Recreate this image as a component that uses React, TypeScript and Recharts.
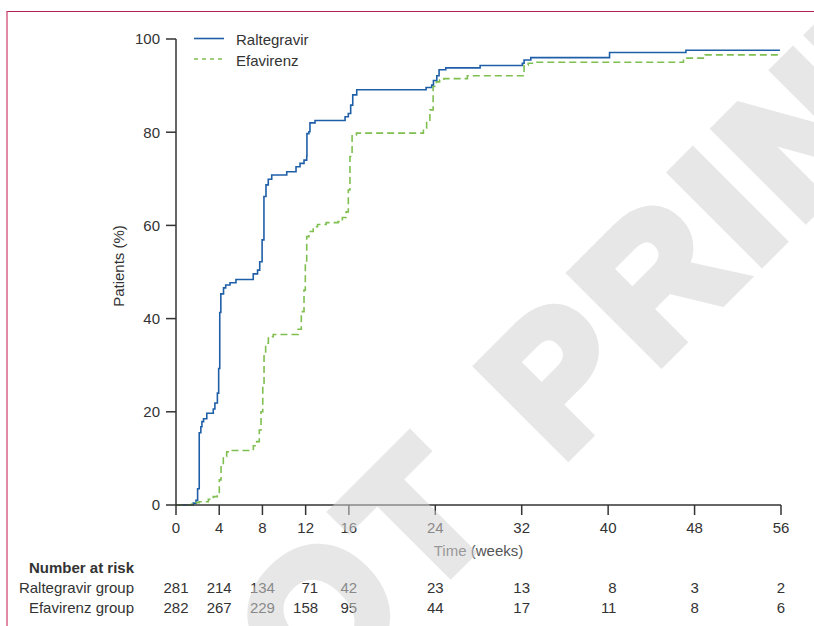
import React from 'react';
import { LineChart, Line, XAxis, YAxis, Legend } from 'recharts';

const xTicks = [0, 4, 8, 12, 16, 24, 32, 40, 48, 56];
const yTicks = [0, 20, 40, 60, 80, 100];

// Kaplan-Meier steps: week where the step happens, new value (%)
const raltegravirWeeks = [
  0, 1.6, 1.85, 2.0, 2.15, 2.3, 2.4, 2.55, 2.85, 3.45, 3.6, 3.83, 3.95, 4.05, 4.15, 4.4, 4.6, 5.0, 5.55,
  7.15, 7.55, 7.75, 7.97, 8.14, 8.33, 8.54, 8.86, 10.25, 11.11, 11.48, 11.85, 12.1, 12.12, 12.3, 12.4,
  12.87, 15.65, 15.95, 16.17, 16.36, 16.73, 23.15, 23.67, 23.83, 24.14, 24.35, 24.97, 28.15, 32.06,
  32.22, 32.84, 40.13, 47.2, 55.9,
];
const raltegravirPct = [
  0, 0.4, 1, 3.5, 15.5, 16.8, 17.9, 18.5, 19.7, 20.6, 21.9, 24, 29.3, 41.3, 45.3, 46.6, 47.2, 47.7, 48.4,
  49.6, 50.4, 52.2, 56.9, 66.2, 68.7, 69.9, 70.8, 71.5, 72.6, 73.3, 74, 74.9, 79.7, 80.1, 82,
  82.5, 83.3, 84, 85.8, 88, 89.1, 89.6, 90.1, 91.1, 92.1, 93.4, 93.8, 94.3, 94.8,
  95.5, 96, 97.1, 97.6, 97.6,
];

const efavirenzWeeks = [
  0, 1.45, 1.85, 2.13, 2.99, 3.45, 3.82, 4.01, 4.17, 4.38, 4.69, 5.0, 7.16, 7.47, 7.71, 7.87, 8.03,
  8.15, 8.3, 8.55, 9.0, 11.3, 11.6, 11.85, 11.97, 12.1, 12.3, 12.7, 13.1, 13.9, 15.0, 15.4, 15.75,
  15.95, 16.1, 16.3, 16.7, 22.9, 23.2, 23.5, 23.8, 24.1, 24.4, 24.8, 26.97, 32.22, 32.6, 33.4,
  46.97, 48.98, 55.9,
];
const efavirenzPct = [
  0, 0.2, 0.5, 0.7, 1.2, 1.8, 2.5, 5.4, 8.9, 10.4, 11.4, 11.7, 12.7, 13.6, 16.1, 20, 25.4,
  32.6, 34.7, 36.1, 36.6, 37.7, 41.5, 46.1, 51.9, 57.6, 58.7, 59.7, 60.2, 60.6, 60.8, 61.7, 62.9,
  67.6, 74.8, 79.4, 79.8, 80.9, 82.6, 84.8, 89.8, 90.8, 91.2, 91.5, 92.1, 94.4, 94.8, 95,
  95.9, 96.6, 96.6,
];

const riskRaltegravir = [281, 214, 134, 71, 42, 23, 13, 8, 3, 2];
const riskEfavirenz = [282, 267, 229, 158, 95, 44, 17, 11, 8, 6];

const raltegravirData = raltegravirWeeks.map((w, i) => ({ week: w, pct: raltegravirPct[i] }));
const efavirenzData = efavirenzWeeks.map((w, i) => ({ week: w, pct: efavirenzPct[i] }));

const FONT = '"Liberation Sans", Arial, sans-serif';
const BLUE = '#1f5fa8';
const GREEN = '#7fbf50';
const INK = '#333';
const DIGIT = 8.34;

const TimeTick = ({ x, y, payload }: any) => {
  const i = xTicks.indexOf(payload.value);
  // numbers at risk are right aligned in a column centred on the tick
  const colRight = x + (String(riskEfavirenz[i]).length * DIGIT) / 2;
  return (
    <g fontFamily={FONT} fontSize={15} fill={INK}>
      <text x={x} y={y} dy="0.71em" textAnchor="middle">{payload.value}</text>
      <text x={colRight} y={y + 70.5} textAnchor="end">{riskRaltegravir[i]}</text>
      <text x={colRight} y={y + 90.5} textAnchor="end">{riskEfavirenz[i]}</text>
      {i === 0 && (
        <g textAnchor="end">
          <text x={x - 42} y={y + 51} fontWeight="bold">Number at risk</text>
          <text x={x - 42} y={y + 70.5}>Raltegravir group</text>
          <text x={x - 42} y={y + 90.5}>Efavirenz group</text>
        </g>
      )}
    </g>
  );
};

const renderLegend = () => (
  <svg width={160} height={44} style={{ display: 'block' }}>
    <line x1={4} y1={10.5} x2={34} y2={10.5} stroke={BLUE} strokeWidth={1.6} />
    <text x={46} y={17} fontFamily={FONT} fontSize={15} fill={INK}>Raltegravir</text>
    <line x1={4} y1={31} x2={34} y2={31} stroke={GREEN} strokeWidth={1.6} strokeDasharray="4 4" />
    <text x={46} y={38} fontFamily={FONT} fontSize={15} fill={INK}>Efavirenz</text>
  </svg>
);

const yLabel = ({ viewBox }: any) => {
  const cx = viewBox.x + 118;
  const cy = viewBox.y + viewBox.height / 2 - 6;
  return (
    <text x={cx} y={cy} transform={`rotate(-90, ${cx}, ${cy})`} textAnchor="middle"
      dominantBaseline="central" fontFamily={FONT} fontSize={15} fill={INK}>
      Patients (%)
    </text>
  );
};

export default function App() {
  return (
    <div style={{ position: 'absolute', left: 0, top: 0, width: 814, height: 626, background: '#fff', overflow: 'hidden' }}>
      <div style={{
        position: 'absolute', left: 6, top: 11, right: 0, bottom: 0,
        borderTop: '1.5px solid #b3224f', borderLeft: '2px solid #e08aa6',
      }} />
      <div style={{ position: 'absolute', left: 0, top: 0 }}>
        <LineChart width={814} height={626} margin={{ top: 39, right: 33, bottom: 61, left: 0 }}>
          <XAxis
            dataKey="week"
            type="number"
            domain={[0, 56]}
            ticks={xTicks}
            interval={0}
            height={60}
            tickSize={10}
            tickMargin={7}
            stroke={INK}
            strokeWidth={1.5}
            tick={<TimeTick />}
            allowDuplicatedCategory={false}
            label={{ value: 'Time (weeks)', position: 'insideBottom', offset: 9, fill: '#555', fontSize: 15, fontFamily: FONT }}
          />
          <YAxis
            type="number"
            domain={[0, 100]}
            ticks={yTicks}
            interval={0}
            width={176}
            tickSize={10}
            tickMargin={6}
            stroke={INK}
            strokeWidth={1.5}
            tick={{ fill: INK, fontSize: 15, fontFamily: FONT }}
            label={{ content: yLabel }}
          />
          <Legend
            content={renderLegend}
            layout="horizontal"
            verticalAlign="middle"
            align="center"
            wrapperStyle={{ top: 28, left: 190, width: 160 }}
          />
          <Line
            data={raltegravirData}
            dataKey="pct"
            name="Raltegravir"
            type="stepAfter"
            stroke={BLUE}
            strokeWidth={1.6}
            dot={false}
            activeDot={false}
            isAnimationActive={false}
          />
          <Line
            data={efavirenzData}
            dataKey="pct"
            name="Efavirenz"
            type="stepAfter"
            stroke={GREEN}
            strokeWidth={1.6}
            strokeDasharray="7 4"
            dot={false}
            activeDot={false}
            isAnimationActive={false}
          />
        </LineChart>
      </div>
      {/* faint watermark laid over the figure */}
      <svg width={814} height={626} style={{ position: 'absolute', left: 0, top: 0, pointerEvents: 'none' }}>
        <text x={-47} y={1069} transform="rotate(-45, -47, 1069)" fontFamily={FONT} fontWeight="bold"
          fontSize={180} letterSpacing={12} wordSpacing={12} fill="#d3d3d3" stroke="#d3d3d3" strokeWidth={12}
          strokeLinejoin="miter" opacity={0.53}>
          DO NOT PRINT
        </text>
      </svg>
    </div>
  );
}
